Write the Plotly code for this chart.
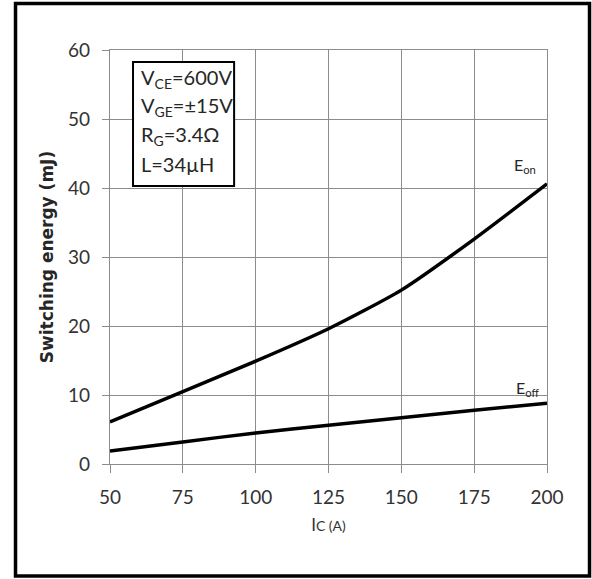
import plotly.graph_objects as go

ic = [50, 75, 100, 125, 150, 175, 200]
e_on = [6.1, 10.5, 14.9, 19.6, 25.2, 32.6, 40.6]
e_off = [1.9, 3.2, 4.5, 5.6, 6.7, 7.8, 8.8]

x_ticks = [50, 75, 100, 125, 150, 175, 200]
y_ticks = [0, 10, 20, 30, 40, 50, 60]

cond_lines = ["V<sub>CE</sub>=600V", "V<sub>GE</sub>=±15V", "R<sub>G</sub>=3.4Ω", "L=34µH"]

FONT = "Lato"
GRID = "#8c8c8c"

fig = go.Figure()
fig.add_trace(go.Scatter(x=ic, y=e_on, mode="lines", line=dict(color="black", width=3.5, shape="spline", smoothing=0.6),
                         showlegend=False, hoverinfo="skip"))
fig.add_trace(go.Scatter(x=ic, y=e_off, mode="lines", line=dict(color="black", width=3.5, shape="spline", smoothing=0.6),
                         showlegend=False, hoverinfo="skip"))

fig.update_layout(
    width=592, height=579,
    margin=dict(l=110, r=45, t=50, b=115),
    paper_bgcolor="white", plot_bgcolor="white",
    font=dict(family=FONT, color="#404040"),
    xaxis=dict(range=[50, 200], tickvals=x_ticks, showgrid=True, gridcolor=GRID, gridwidth=1.3,
               zeroline=False, showline=True, linecolor=GRID, linewidth=1.3, mirror=True,
               ticks="outside", ticklen=8, tickcolor=GRID, tickwidth=1.3, ticklabelstandoff=8,
               tickfont=dict(size=19, family=FONT, color="#333333"),
               title=dict(text="I<span style='font-size:14px'>C (A)</span>",
                          font=dict(size=17, family=FONT, color="#333333"), standoff=12)),
    yaxis=dict(range=[0, 60], tickvals=y_ticks, showgrid=True, gridcolor=GRID, gridwidth=1.3,
               zeroline=False, showline=True, linecolor=GRID, linewidth=1.3, mirror=True,
               ticks="outside", ticklen=7, tickcolor=GRID, tickwidth=1.3, ticklabelstandoff=8,
               tickfont=dict(size=19, family=FONT, color="#333333"),
               title=dict(text="<b>Switching energy (mJ)</b>",
                          font=dict(size=17, family="DejaVu Sans", color="#262626"), standoff=10)),
)

# outer frame
fig.add_shape(type="rect", xref="paper", yref="paper", x0=-0.2162, x1=1.0973, y0=-0.2705, y1=1.1123,
              line=dict(color="black", width=3.5))

# condition box
fig.add_shape(type="rect", xref="x", yref="y", x0=57.9, x1=92.6, y0=40.3, y1=58.26,
              line=dict(color="black", width=2), fillcolor="white", layer="above")
cond_y = [55.94, 51.88, 47.68, 43.48]
for txt, yy in zip(cond_lines, cond_y):
    fig.add_annotation(xref="x", yref="y", x=59.9, y=yy, xanchor="left", yanchor="middle",
                       text=txt, showarrow=False, font=dict(size=20, family=FONT, color="#262626"))

fig.add_annotation(xref="x", yref="y", x=197, y=41.5, xanchor="right", yanchor="bottom",
                   text="E<sub>on</sub>", showarrow=False, font=dict(size=16, family=FONT, color="#262626"))
fig.add_annotation(xref="x", yref="y", x=198, y=9.2, xanchor="right", yanchor="bottom",
                   text="E<sub>off</sub>", showarrow=False, font=dict(size=16, family=FONT, color="#262626"))

fig.write_html("out.html", config={"displayModeBar": False},
               post_script="document.body.style.margin='0px';document.body.style.overflow='hidden';")
